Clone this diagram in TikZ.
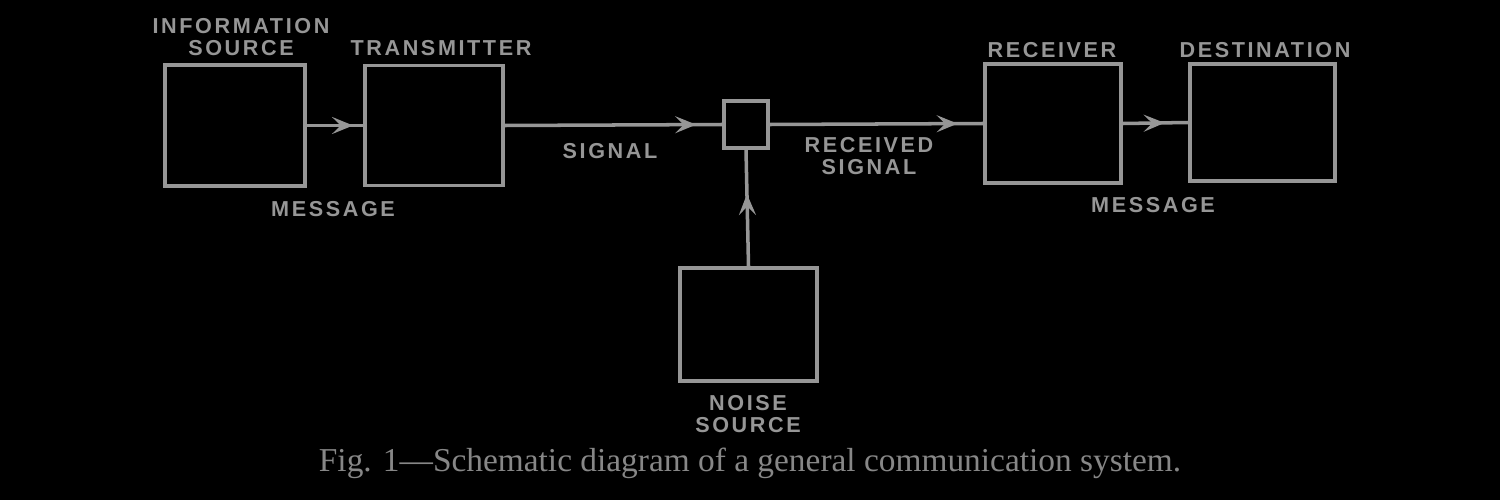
\documentclass[tikz,border=0pt]{standalone}
\usepackage{fontspec}
\setmainfont{Liberation Serif}
\newfontfamily\lblfont[LetterSpace=12]{Liberation Sans Bold}
\usetikzlibrary{arrows.meta,decorations.markings}
\definecolor{ink}{RGB}{150,150,150}
\definecolor{capink}{RGB}{135,135,135}
\tikzset{
  blk/.style={draw=ink, line width=2pt, inner sep=0pt, rectangle},
  lbl/.style={text=ink, font=\lblfont\fontsize{12.3}{12.5}\selectfont, align=center, inner sep=0pt},
  conn/.style={draw=ink, line width=2pt, postaction={decorate},
    decoration={markings, mark=at position #1 with {\arrow[ink]{Stealth[length=0.42cm,width=0.34cm,inset=0.17cm]}}}},
}
\begin{document}
\begin{tikzpicture}[x=0.02cm,y=-0.02cm]
\fill[black] (0,0) rectangle (1500,500);
\useasboundingbox (0,0) rectangle (1500,500);
% blocks
\node[blk, minimum width=140*0.02cm, minimum height=121*0.02cm] (src) at (235,125.5) {};
\node[blk, minimum width=138*0.02cm, minimum height=120*0.02cm] (tx) at (434,125.5) {};
\node[blk, minimum width=44*0.02cm, minimum height=47*0.02cm] (nz) at (746,124.5) {};
\node[blk, minimum width=136*0.02cm, minimum height=119*0.02cm] (rx) at (1053,123.5) {};
\node[blk, minimum width=145*0.02cm, minimum height=117*0.02cm] (dst) at (1262.5,122.5) {};
\node[blk, minimum width=137*0.02cm, minimum height=113*0.02cm] (ns) at (748.5,324.5) {};
% connectors
\draw[conn=0.82] (src.east) -- (tx.west);
\draw[conn=0.88] (tx.east) -- (nz.west);
\draw[conn=0.88] (nz.east) -- (rx.west);
\draw[conn=0.64] (rx.east) -- (dst.west);
\draw[conn=0.62] (ns.north) -- (nz.south);
% labels
\node[lbl] (lsrc) at (241,37) {INFORMATION\\SOURCE};
\node[lbl] (ltx) at (441,48) {TRANSMITTER};
\node[lbl] (lm1) at (333,209) {MESSAGE};
\node[lbl] (lsig) at (610,151) {SIGNAL};
\node[lbl] (lrs) at (869,156) {RECEIVED\\SIGNAL};
\node[lbl] (lrx) at (1052,50) {RECEIVER};
\node[lbl] (ldst) at (1265,50) {DESTINATION};
\node[lbl] (lm2) at (1153,205) {MESSAGE};
\node[lbl] (lns) at (748,414) {NOISE\\SOURCE};
\node[text=capink, font=\fontsize{19}{21}\selectfont, inner sep=0pt] (cap) at (750,463) {Fig. 1---Schematic diagram of a general communication system.};
\end{tikzpicture}
\end{document}
